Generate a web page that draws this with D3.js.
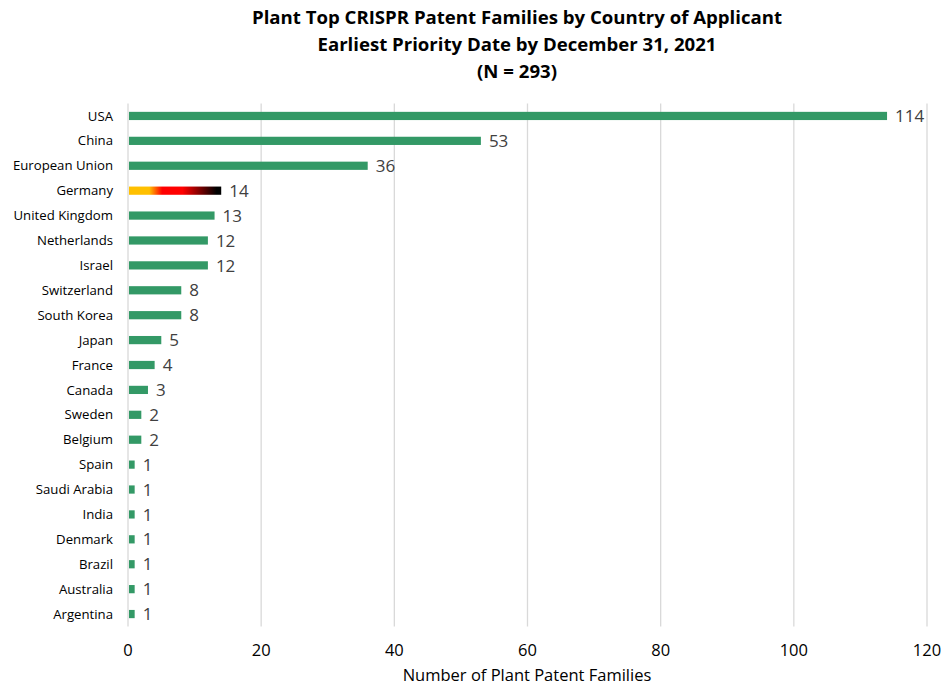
<!DOCTYPE html>
<html><head><meta charset="utf-8">
<script src="https://cdn.jsdelivr.net/npm/d3@7"></script>
<style>body{margin:0;background:#fff;} text{font-family:"Open Sans","Noto Sans",sans-serif;}</style>
</head><body>
<svg id="c" width="941" height="686"></svg>
<script>
const countries = ["USA","China","European Union","Germany","United Kingdom","Netherlands","Israel","Switzerland","South Korea","Japan","France","Canada","Sweden","Belgium","Spain","Saudi Arabia","India","Denmark","Brazil","Australia","Argentina"];
const values = [114,53,36,14,13,12,12,8,8,5,4,3,2,2,1,1,1,1,1,1,1];
const xTicks = [0,20,40,60,80,100,120];
const titleLines = ["Plant Top CRISPR Patent Families by Country of Applicant","Earliest Priority Date by December 31, 2021","(N = 293)"];
const xTitle = "Number of Plant Patent Families";

const svg = d3.select("#c");
const pLeft = 128, pRight = 927, pTop = 103.5, pBottom = 626.5;
const x = d3.scaleLinear().domain([0,120]).range([pLeft,pRight]);
const y = d3.scaleBand().domain(countries).range([pTop,pBottom]).paddingInner(0.67).paddingOuter(0.335);

const defs = svg.append("defs");
const grad = defs.append("linearGradient").attr("id","de").attr("x1","0%").attr("x2","100%");
[[0,"#FFC000"],[0.22,"#FFC000"],[0.36,"#FF0000"],[0.58,"#FF0000"],[0.95,"#000000"],[1,"#000000"]]
  .forEach(([o,c])=>grad.append("stop").attr("offset",o).attr("stop-color",c));

// gridlines
svg.append("g").selectAll("line").data(xTicks).join("line")
  .attr("x1",d=>x(d)).attr("x2",d=>x(d)).attr("y1",pTop).attr("y2",pBottom)
  .attr("stroke","#D9D9D9").attr("stroke-width",1.3);

// tick labels
svg.append("g").selectAll("text").data(xTicks).join("text")
  .attr("x",d=>x(d)).attr("y",656).attr("text-anchor","middle")
  .attr("font-size",16.5).attr("fill","#000").text(d=>d);

// bars
svg.append("g").selectAll("rect").data(countries).join("rect")
  .attr("x",x(0)+1).attr("y",d=>y(d)).attr("height",y.bandwidth())
  .attr("width",(d,i)=>x(values[i])-x(0)-1)
  .attr("fill",d=>d==="Germany"?"url(#de)":"#339966");

// value labels
svg.append("g").selectAll("text").data(countries).join("text")
  .attr("x",(d,i)=>x(values[i])+8).attr("y",d=>y(d)+y.bandwidth()/2)
  .attr("dy","0.36em").attr("font-size",17).attr("fill","#404040")
  .text((d,i)=>values[i]);

// category labels
svg.append("g").selectAll("text").data(countries).join("text")
  .attr("x",113).attr("y",d=>y(d)+y.bandwidth()/2).attr("dy","0.35em")
  .attr("text-anchor","end").attr("font-size",13.2).attr("fill","#000").text(d=>d);

// title
svg.append("g").selectAll("text").data(titleLines).join("text")
  .attr("x",517).attr("y",(d,i)=>24+i*27).attr("text-anchor","middle")
  .attr("font-size",18.6).attr("font-weight","bold").attr("fill","#000").text(d=>d);

svg.append("text").attr("x",527).attr("y",681).attr("text-anchor","middle")
  .attr("font-size",16.5).attr("fill","#000").text(xTitle);
</script>
</body></html>
